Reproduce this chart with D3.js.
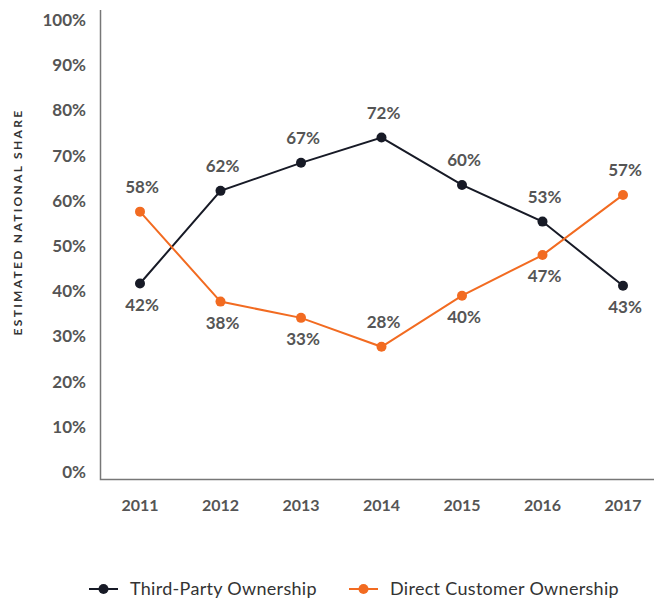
<!doctype html>
<html>
  <head>
    <script src="https://cdnjs.cloudflare.com/ajax/libs/d3/7.8.5/d3.min.js"></script>
    <style>
      body { margin: 0; background: #fff; }
      text { font-family: Lato, "Open Sans", sans-serif; }
      .tick-label { font-size: 16px; font-weight: 700; fill: #555; }
      .ytick { font-size: 17px; }
      .point-label { font-size: 17px; font-weight: 700; fill: #555; }
      .axis-title { font-size: 12px; font-weight: 700; fill: #333; letter-spacing: 2.3px; }
      .legend-label { font-size: 18px; fill: #333; letter-spacing: 0.3px; }
      path.domain-line { stroke: #777; stroke-width: 1.5; fill: none; }
    </style>
  </head>
  <body>
    <svg id="chart" width="654" height="600"></svg>
    <script>
      var years = ["2011", "2012", "2013", "2014", "2015", "2016", "2017"];
      var yTicks = [0, 10, 20, 30, 40, 50, 60, 70, 80, 90, 100];

      // plotted positions and the printed labels
      var thirdParty = [41.7, 62.2, 68.4, 74.0, 63.5, 55.4, 41.2];
      var thirdPartyLabels = ["42%", "62%", "67%", "72%", "60%", "53%", "43%"];
      var direct = [57.6, 37.7, 34.1, 27.7, 39.0, 48.0, 61.3];
      var directLabels = ["58%", "38%", "33%", "28%", "40%", "47%", "57%"];

      var seriesNames = ["Third-Party Ownership", "Direct Customer Ownership"];
      var colors = ["#171a26", "#f26b21"];

      var svg = d3.select("#chart");

      var x = d3.scalePoint().domain(years).range([140, 623]);
      var y = d3.scaleLinear().domain([0, 100]).range([472, 20]);

      // axes lines
      svg.append("path")
        .attr("class", "domain-line")
        .attr("d", "M100.5,10 V479.5 H654");

      svg.selectAll("text.ytick").data(yTicks)
        .enter()
        .append("text")
          .attr("class", "tick-label ytick")
          .attr("x", 86)
          .attr("y", d => y(d))
          .attr("dy", "0.35em")
          .attr("text-anchor", "end")
          .text(d => d + "%");

      svg.selectAll("text.xtick").data(years)
        .enter()
        .append("text")
          .attr("class", "tick-label xtick")
          .attr("x", d => x(d))
          .attr("y", 511)
          .attr("text-anchor", "middle")
          .text(d => d);

      svg.append("text")
        .attr("class", "axis-title")
        .attr("transform", "translate(22,222) rotate(-90)")
        .attr("text-anchor", "middle")
        .text("ESTIMATED NATIONAL SHARE");

      var line = d3.line()
        .x((d, i) => x(years[i]))
        .y(d => y(d));

      function drawSeries(values, labels, color, above) {
        svg.append("path")
          .datum(values)
          .attr("fill", "none")
          .attr("stroke", color)
          .attr("stroke-width", 2)
          .attr("d", line);

        svg.selectAll(null).data(values)
          .enter()
          .append("circle")
            .attr("cx", (d, i) => x(years[i]))
            .attr("cy", d => y(d))
            .attr("r", 5)
            .attr("fill", color);

        svg.selectAll(null).data(values)
          .enter()
          .append("text")
            .attr("class", "point-label")
            .attr("x", (d, i) => x(years[i]) + 2)
            .attr("y", (d, i) => y(d) + (above[i] ? -19 : 27))
            .attr("text-anchor", "middle")
            .text((d, i) => labels[i]);
      }

      drawSeries(thirdParty, thirdPartyLabels, colors[0], [false, true, true, true, true, true, false]);
      drawSeries(direct, directLabels, colors[1], [true, false, false, true, false, false, true]);

      // legend
      var legendX = [89, 349];
      var legend = svg.selectAll("g.legend").data(seriesNames)
        .enter()
        .append("g")
          .attr("class", "legend")
          .attr("transform", (d, i) => "translate(" + legendX[i] + ",589)");

      legend.append("line")
        .attr("x1", 0).attr("x2", 29)
        .attr("stroke", (d, i) => colors[i])
        .attr("stroke-width", 2);
      legend.append("circle")
        .attr("cx", 14.5)
        .attr("r", 5)
        .attr("fill", (d, i) => colors[i]);
      legend.append("text")
        .attr("class", "legend-label")
        .attr("x", 41)
        .attr("dy", "0.35em")
        .text(d => d);
    </script>
  </body>
</html>
